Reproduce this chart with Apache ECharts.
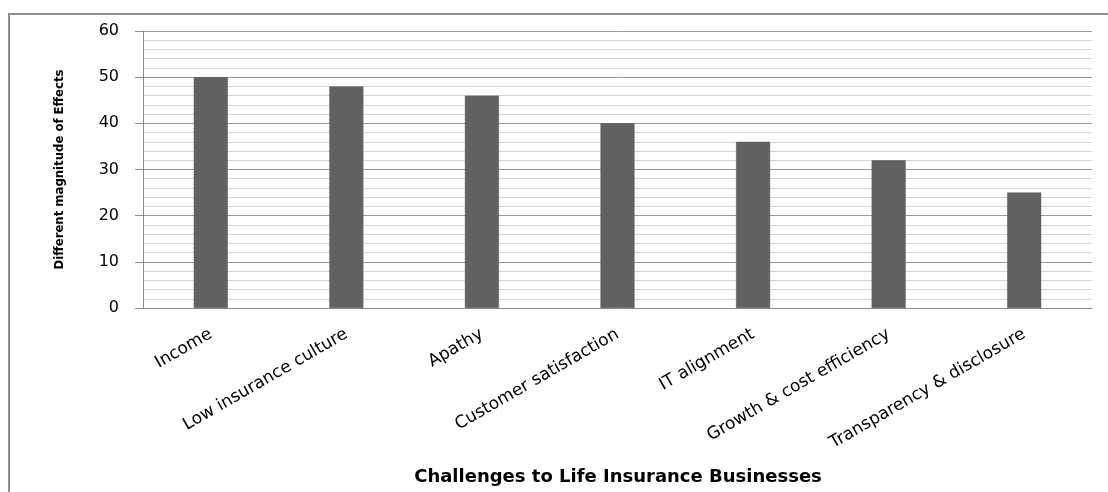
<!DOCTYPE html>
<html>
<head>
<meta charset="utf-8">
<script src="https://cdn.jsdelivr.net/npm/echarts@6/dist/echarts.min.js"></script>
<style>html,body{margin:0;padding:0;background:#fff}#c{width:1108px;height:492px}</style>
</head>
<body>
<div id="c"></div>
<script>
var categories = ['Income', 'Low insurance culture', 'Apathy', 'Customer satisfaction', 'IT alignment', 'Growth & cost efficiency', 'Transparency & disclosure'];
var values = [50, 48, 46, 40, 36, 32, 25];
var yAxisTitle = 'Different magnitude of Effects';
var xAxisTitle = 'Challenges to Life Insurance Businesses';

var chart = echarts.init(document.getElementById('c'), null, {renderer: 'canvas'});
chart.setOption({
  animation: false,
  backgroundColor: '#fff',
  grid: {left: 143, right: 16, top: 31, bottom: 184},
  graphic: [
    {type: 'rect', shape: {x: 9, y: 14, width: 1200, height: 600}, style: {fill: 'none', stroke: '#8f8f8f', lineWidth: 2}, z: 0},
    {type: 'text', x: 618, y: 477, style: {text: xAxisTitle, fontFamily: 'DejaVu Sans', fontWeight: 'bold', fontSize: 18, fill: '#000', align: 'center', verticalAlign: 'middle'}}
  ],
  xAxis: {
    type: 'category',
    data: categories,
    axisLine: {lineStyle: {color: '#8c8c8c', width: 1}},
    axisTick: {show: false},
    axisLabel: {rotate: 30, margin: 25, fontFamily: 'DejaVu Sans', fontSize: 17, color: '#000', interval: 0}
  },
  yAxis: {
    type: 'value',
    min: 0, max: 60, interval: 10,
    name: yAxisTitle,
    nameLocation: 'middle',
    nameGap: 77,
    nameTextStyle: {fontFamily: 'DejaVu Sans Condensed', fontWeight: 'bold', fontSize: 13, color: '#000'},
    axisLine: {show: true, lineStyle: {color: '#8c8c8c', width: 1}},
    axisTick: {show: true, length: 8, lineStyle: {color: '#8c8c8c'}},
    axisLabel: {margin: 24, fontFamily: 'DejaVu Sans', fontSize: 16, color: '#000'},
    splitLine: {show: true, lineStyle: {color: '#9a9a9a', width: 1}},
    minorTick: {show: false, splitNumber: 5},
    minorSplitLine: {show: true, lineStyle: {color: '#d4d4d4', width: 1}}
  },
  series: [{
    type: 'bar',
    data: values,
    barWidth: 34,
    itemStyle: {color: '#616161', borderColor: '#555', borderWidth: 0.5}
  }]
});
</script>
</body>
</html>
